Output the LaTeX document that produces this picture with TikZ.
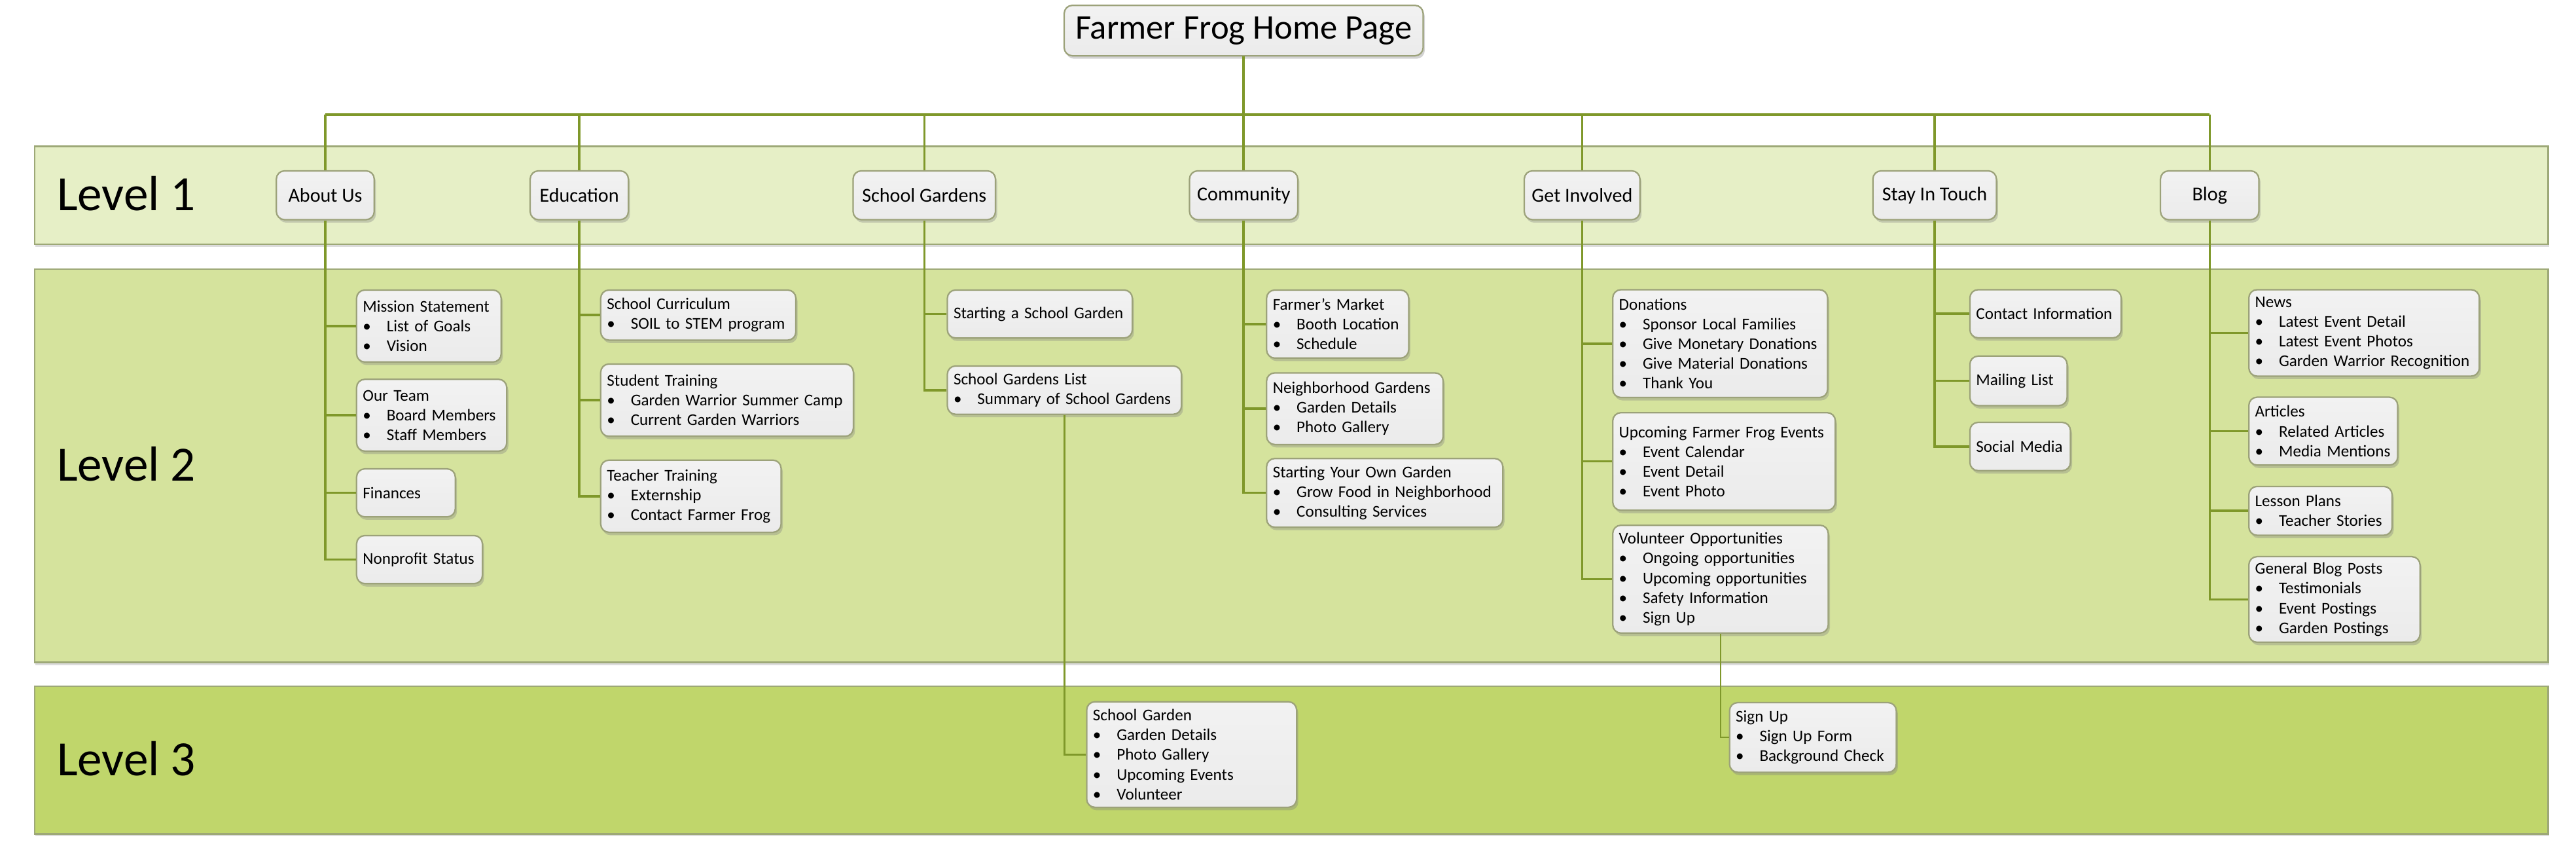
\documentclass[tikz,border=0pt]{standalone}
\usepackage{fontspec}
\setmainfont{Carlito}
\usetikzlibrary{shadows}
\definecolor{bandA}{HTML}{E6EFC6}
\definecolor{bandB}{HTML}{D5E39D}
\definecolor{bandC}{HTML}{C0D66B}
\definecolor{bandline}{HTML}{9DA877}
\definecolor{connc}{HTML}{7F982A}
\definecolor{boxline}{HTML}{9CA27A}
\definecolor{boxtop}{HTML}{F2F2F2}
\definecolor{boxbot}{HTML}{EBEBEB}
\newcommand\bl[1]{\\\mbox{\makebox[14.5pt][l]{\textbullet}#1}}
\begin{document}
\begin{tikzpicture}[x=1pt,y=-1pt,
  band/.style={draw=bandline,line width=0.9pt,
    drop shadow={shadow xshift=0.6pt,shadow yshift=-1.6pt,opacity=0.28}},
  boxbase/.style={draw=boxline,line width=0.9pt,rounded corners=5pt,
    top color=boxtop,bottom color=boxbot,
    drop shadow={shadow xshift=1pt,shadow yshift=-1.8pt,opacity=0.35}},
  cbox/.style={boxbase,anchor=north west,align=left,inner xsep=3.8pt,inner ysep=1pt,
    font=\fontsize{10}{12}\selectfont},
  lonebox/.style={boxbase,anchor=center,align=center,inner sep=0pt,minimum height=29.7pt,
    font=\fontsize{12}{14}\selectfont},
  lvl/.style={anchor=base west,inner sep=0pt,font=\fontsize{30}{36}\selectfont},
  conn/.style={draw=connc,line width=1.4pt},
  connthree/.style={draw=connc,line width=1pt}]
\useasboundingbox (0,0) rectangle (1568,526);
% bands
\draw[band,fill=bandA] (21,89) rectangle (1551,148.7);
\draw[band,fill=bandB] (21,163.7) rectangle (1551,403);
\draw[band,fill=bandC] (21,417.6) rectangle (1551,507.3);
\node[lvl] (lv1) at (34.5,128.2) {Level 1};
\node[lvl] (lv2) at (34.5,292.8) {Level 2};
\node[lvl] (lv3) at (34.5,472) {Level 3};
% title
\node[boxbase,inner sep=0pt,minimum width=218.5pt,minimum height=30.7pt,
  font=\fontsize{21}{25}\selectfont] (title) at (757,18.6) {Farmer Frog Home Page};
% level 1
\node[lonebox,minimum width=59.6pt] (about) at (198,118.8) {About Us};
\node[lonebox,minimum width=59.8pt] (edu) at (352.6,118.8) {Education};
\node[lonebox,minimum width=86.7pt] (sgard) at (562.6,118.8) {School Gardens};
\node[lonebox,minimum width=65.9pt] (comm) at (757,118.8) {Community};
\node[lonebox,minimum width=70.4pt] (gi) at (963,118.8) {Get Involved};
\node[lonebox,minimum width=75.2pt] (sit) at (1177.6,118.8) {Stay In Touch};
\node[lonebox,minimum width=59.9pt] (blog) at (1345,118.8) {Blog};
% About Us
\node[cbox,text width=80.4pt,minimum height=43.8pt] (ms) at (216.6,176) {\mbox{Mission Statement}\bl{List of Goals}\bl{Vision}};
\node[cbox,text width=83.8pt,minimum height=43.7pt] (team) at (216.6,230.3) {\mbox{Our Team}\bl{Board Members}\bl{Staff Members}};
\node[cbox,text width=52.5pt,minimum height=29.2pt] (fin) at (216.6,284.8) {\mbox{Finances}};
\node[cbox,text width=69pt,minimum height=29.2pt] (np) at (216.6,325.4) {\mbox{Nonprofit Status}};
% Education
\node[cbox,text width=111.2pt,minimum height=30.5pt] (sc) at (365.2,176) {\mbox{School Curriculum}\bl{SOIL to STEM program}};
\node[cbox,text width=146.2pt,minimum height=44pt] (st) at (365.2,221) {\mbox{Student Training}\bl{Garden Warrior Summer Camp}\bl{Current Garden Warriors}};
\node[cbox,text width=102.2pt,minimum height=43.9pt] (tt) at (365.2,279.5) {\mbox{Teacher Training}\bl{Externship}\bl{Contact Farmer Frog}};
% School Gardens
\node[cbox,text width=105pt,minimum height=29.2pt] (sasg) at (576.2,176) {\mbox{Starting a School Garden}};
\node[cbox,text width=134.9pt,minimum height=29.4pt] (sgl) at (576.2,222.2) {\mbox{School Gardens List}\bl{Summary of School Gardens}};
\node[cbox,text width=120.2pt,minimum height=64.2pt] (sgthree) at (661,426.5) {\mbox{School Garden}\bl{Garden Details}\bl{Photo Gallery}\bl{Upcoming Events}\bl{Volunteer}};
% Community
\node[cbox,text width=78.9pt,minimum height=41.4pt] (fm) at (770.5,176) {\mbox{Farmer’s Market}\bl{Booth Location}\bl{Schedule}};
\node[cbox,text width=99.9pt,minimum height=43.6pt] (ng) at (770.5,226.4) {\mbox{Neighborhood Gardens}\bl{Garden Details}\bl{Photo Gallery}};
\node[cbox,text width=136.2pt,minimum height=41.8pt] (syog) at (770.5,278.5) {\mbox{Starting Your Own Garden}\bl{Grow Food in Neighborhood}\bl{Consulting Services}};
% Get Involved
\node[cbox,text width=123.2pt,minimum height=65.6pt] (don) at (981.2,175.8) {\mbox{Donations}\bl{Sponsor Local Families}\bl{Give Monetary Donations}\bl{Give Material Donations}\bl{Thank You}};
\node[cbox,text width=127.9pt,minimum height=59.4pt] (ufe) at (981.2,250.6) {\mbox{Upcoming Farmer Frog Events}\bl{Event Calendar}\bl{Event Detail}\bl{Event Photo}};
\node[cbox,text width=123.6pt,minimum height=65.6pt] (vo) at (981.2,319.1) {\mbox{Volunteer Opportunities}\bl{Ongoing opportunities}\bl{Upcoming opportunities}\bl{Safety Information}\bl{Sign Up}};
\node[cbox,text width=93.9pt,minimum height=42.4pt] (suthree) at (1052.3,427) {\mbox{Sign Up}\bl{Sign Up Form}\bl{Background Check}};
% Stay In Touch
\node[cbox,text width=84.5pt,minimum height=29.3pt] (ci) at (1198.6,175.8) {\mbox{Contact Information}};
\node[cbox,text width=51.6pt,minimum height=30.1pt] (ml) at (1198.6,216.2) {\mbox{Mailing List}};
\node[cbox,text width=53.6pt,minimum height=29.4pt] (smd) at (1198.6,256.5) {\mbox{Social Media}};
% Blog
\node[cbox,text width=132.7pt,minimum height=52.6pt] (news) at (1368.4,175.8) {\mbox{News}\bl{Latest Event Detail}\bl{Latest Event Photos}\bl{Garden Warrior Recognition}};
\node[cbox,text width=83pt,minimum height=41.3pt] (art) at (1368.4,241.2) {\mbox{Articles}\bl{Related Articles}\bl{Media Mentions}};
\node[cbox,text width=79.6pt,minimum height=29.7pt] (lp) at (1368.4,295.5) {\mbox{Lesson Plans}\bl{Teacher Stories}};
\node[cbox,text width=96.6pt,minimum height=52.1pt] (gbp) at (1368.4,338.2) {\mbox{General Blog Posts}\bl{Testimonials}\bl{Event Postings}\bl{Garden Postings}};
% connectors
\coordinate (bus) at (0,69.7);
\draw[conn] (title.south) -- (comm.north);
\draw[conn] (about.north |- bus) -- (blog.north |- bus);
\draw[conn] (about.north) -- (about.north |- bus);
\draw[conn] (edu.north) -- (edu.north |- bus);
\draw[conn] (sgard.north) -- (sgard.north |- bus);
\draw[conn] (gi.north) -- (gi.north |- bus);
\draw[conn] (sit.north) -- (sit.north |- bus);
\draw[conn] (blog.north) -- (blog.north |- bus);
\draw[conn] (about.south) |- (ms.west) (about.south) |- (team.west) (about.south) |- (fin.west) (about.south) |- (np.west);
\draw[conn] (edu.south) |- (sc.west) (edu.south) |- (st.west) (edu.south) |- (tt.west);
\draw[conn] (sgard.south) |- (sasg.west) (sgard.south) |- (sgl.west);
\draw[conn] (comm.south) |- (fm.west) (comm.south) |- (ng.west) (comm.south) |- (syog.west);
\draw[conn] (gi.south) |- (don.west) (gi.south) |- (ufe.west) (gi.south) |- (vo.west);
\draw[conn] (sit.south) |- (ci.west) (sit.south) |- (ml.west) (sit.south) |- (smd.west);
\draw[conn] (blog.south) |- (news.west) (blog.south) |- (art.west) (blog.south) |- (lp.west) (blog.south) |- (gbp.west);
\draw[connthree] (sgl.south) |- (sgthree.west);
\draw[connthree] (vo.south) |- (suthree.west);
\end{tikzpicture}
\end{document}
